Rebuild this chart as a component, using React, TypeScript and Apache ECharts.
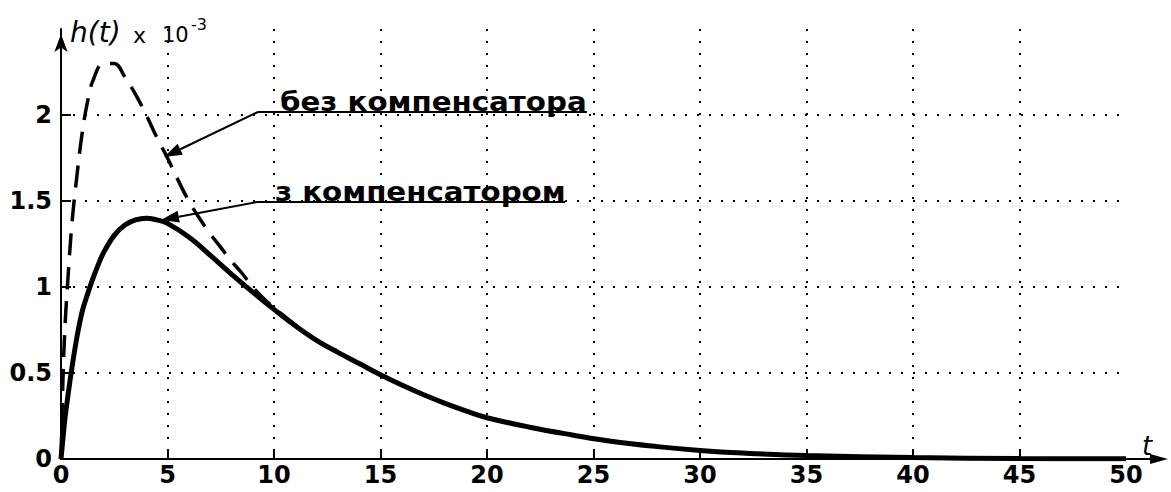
import React, { useEffect, useRef } from "react";
import * as echarts from "echarts";

// with compensator (solid)
const tSolid = [0, 0.1, 0.2, 0.35, 0.5, 0.75, 1, 1.25, 1.5, 1.75, 2, 2.5, 3, 3.5, 4, 4.5, 5, 6, 7, 8, 9, 10, 11, 12, 13, 14, 15, 16, 17, 18, 19, 20, 22, 24, 26, 28, 30, 32, 35, 40, 45, 50];
const hSolid = [0, 0.13, 0.25, 0.39, 0.52, 0.71, 0.86, 0.96, 1.05, 1.13, 1.2, 1.3, 1.36, 1.39, 1.4, 1.39, 1.37, 1.29, 1.185, 1.075, 0.97, 0.87, 0.775, 0.69, 0.62, 0.555, 0.49, 0.43, 0.375, 0.325, 0.28, 0.24, 0.185, 0.14, 0.1, 0.072, 0.05, 0.035, 0.02, 0.008, 0.003, 0.001];

// without compensator (dashed)
const tDashed = [0, 0.1, 0.2, 0.3, 0.5, 0.75, 1, 1.25, 1.5, 2, 2.5, 3, 3.5, 4, 4.5, 5, 5.5, 6, 6.5, 7, 7.5, 8, 8.5, 9, 9.5, 10, 11, 12];
const hDashed = [0, 0.5, 0.8, 1.0, 1.35, 1.65, 1.9, 2.08, 2.2, 2.3, 2.3, 2.22, 2.12, 2.0, 1.87, 1.75, 1.62, 1.5, 1.4, 1.31, 1.23, 1.15, 1.08, 1.0, 0.935, 0.88, 0.78, 0.69];

const xLabelValues = [0, 5, 10, 15, 20, 25, 30, 35, 40, 45, 50];
const xTickValues = [5, 10, 15, 20, 25, 30, 35, 40, 45];
const yLabelValues = [0, 0.5, 1, 1.5, 2];
const yTickValues = [0.5, 1, 1.5, 2];

const labelNoComp = "без компенсатора";
const labelComp = "з компенсатором";

const FONT = "DejaVu Sans";

function arrow(x1: number, y1: number, x2: number, y2: number, headLen = 18, headHalf = 6) {
  const dx = x2 - x1, dy = y2 - y1;
  const len = Math.hypot(dx, dy);
  const ux = dx / len, uy = dy / len;
  const bx = x2 - ux * headLen, by = y2 - uy * headLen;
  const nx = -uy, ny = ux;
  return [
    { type: "line", shape: { x1, y1, x2: bx, y2: by }, style: { stroke: "#000", lineWidth: 2 } },
    {
      type: "polygon",
      shape: { points: [[x2, y2], [bx + nx * headHalf, by + ny * headHalf], [bx - nx * headHalf, by - ny * headHalf]] },
      style: { fill: "#000" },
    },
  ];
}

export default function App() {
  const ref = useRef<HTMLDivElement>(null);
  useEffect(() => {
    if (!ref.current) return;
    const chart = echarts.init(ref.current, null, { renderer: "svg" });
    const split = { show: true, showMinLine: true, showMaxLine: true, lineStyle: { color: "#000", type: [2, 10], width: 2 } };
    const graphic: any[] = [
      // x-axis extension with arrow
      { type: "line", shape: { x1: 1126, y1: 459, x2: 1155, y2: 459 }, style: { stroke: "#000", lineWidth: 2 } },
      { type: "polygon", shape: { points: [[1168, 459], [1150, 454], [1150, 464]] }, style: { fill: "#000" } },
      { type: "text", x: 1142, y: 446, style: { text: "t", font: `italic 26px "${FONT}"`, fill: "#000", verticalAlign: "middle" } },
      // y label
      { type: "text", x: 70, y: 32, style: { text: "h(t)", font: `italic 28px "${FONT}"`, fill: "#000", verticalAlign: "middle" } },
      { type: "text", x: 133, y: 35, style: { text: "x", font: `22px "${FONT}"`, fill: "#000", verticalAlign: "middle" } },
      { type: "text", x: 162, y: 35, style: { text: "10", font: `21px "${FONT}"`, fill: "#000", verticalAlign: "middle" } },
      { type: "text", x: 191, y: 24, style: { text: "-3", font: `16px "${FONT}"`, fill: "#000", verticalAlign: "middle" } },
      // annotations
      { type: "line", shape: { x1: 258, y1: 112, x2: 587, y2: 112 }, style: { stroke: "#000", lineWidth: 2 } },
      ...arrow(258, 112, 164, 157),
      { type: "text", x: 280, y: 102, scaleX: 1.085, style: { text: labelNoComp, font: `bold 27px "${FONT}"`, fill: "#000", verticalAlign: "middle" } },
      { type: "line", shape: { x1: 257, y1: 202, x2: 565, y2: 202 }, style: { stroke: "#000", lineWidth: 2 } },
      ...arrow(257, 202, 161, 220),
      { type: "text", x: 275, y: 192, scaleX: 1.085, style: { text: labelComp, font: `bold 27px "${FONT}"`, fill: "#000", verticalAlign: "middle" } },
    ];
    chart.setOption({
      animation: false,
      backgroundColor: "#fff",
      grid: { left: 61, right: 45, top: 29, bottom: 33 },
      xAxis: {
        type: "value",
        min: 0,
        max: 50,
        interval: 5,
        axisLine: { show: true, lineStyle: { color: "#000", width: 2 } },
        axisTick: { show: true, inside: true, length: 8, lineStyle: { color: "#000", width: 2 }, customValues: xTickValues },
        axisLabel: { color: "#000", fontSize: 24, fontWeight: "bold", fontFamily: FONT, margin: 4, customValues: xLabelValues },
        splitLine: split,
      },
      yAxis: {
        type: "value",
        min: 0,
        max: 2.5,
        interval: 0.5,
        axisLine: { show: true, lineStyle: { color: "#000", width: 2 }, symbol: ["none", "arrow"], symbolSize: [10, 18], symbolOffset: [0, -5] },
        axisTick: { show: true, inside: true, length: 10, lineStyle: { color: "#000", width: 2 }, customValues: yTickValues },
        axisLabel: { color: "#000", fontSize: 24, fontWeight: "bold", fontFamily: FONT, margin: 9, customValues: yLabelValues },
        splitLine: split,
      },
      series: [
        {
          type: "line",
          data: tDashed.map((t, i) => [t, hDashed[i]]),
          showSymbol: false,
          smooth: 0.4,
          lineStyle: { color: "#000", width: 3.5, type: [22, 12] },
          silent: true,
        },
        {
          type: "line",
          data: tSolid.map((t, i) => [t, hSolid[i]]),
          showSymbol: false,
          smooth: 0.4,
          lineStyle: { color: "#000", width: 5 },
          silent: true,
        },
      ],
      graphic,
    });
    return () => chart.dispose();
  }, []);
  return <div ref={ref} style={{ position: "fixed", left: 0, top: 0, width: 1171, height: 492, background: "#fff" }} />;
}
